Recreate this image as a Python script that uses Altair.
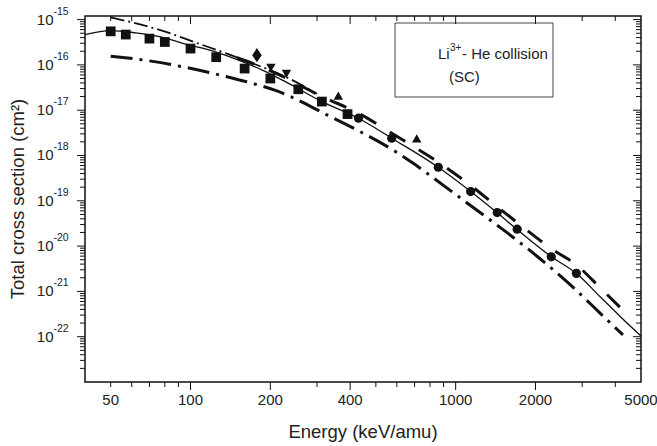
import altair as alt
import pandas as pd

# ---------------- data ----------------
# theory curves: energy (keV/amu) and total single-capture cross section (cm^2)
solid_E = [40, 50, 62, 78, 95, 120, 150, 190, 226, 313, 430, 574, 860, 1140, 1430, 1700, 2300, 2850, 3500, 4200, 5000]
solid_s = [4.67e-16, 5.7e-16, 5.1e-16, 4.1e-16, 2.9e-16, 2.07e-16, 1.31e-16, 7.3e-17, 4.37e-17, 1.55e-17,
           6.65e-18, 2.41e-18, 5.5e-19, 1.6e-19, 5.5e-20, 2.36e-20, 5.8e-21, 2.5e-21, 7.7e-22, 2.7e-22, 1.04e-22]

upper_E = [50, 78, 108, 138, 180, 226, 300]
upper_s = [1.12e-15, 5.7e-16, 2.91e-16, 1.75e-16, 9.7e-17, 5.6e-17, 2.3e-17]

dashed_E = [150, 190, 226, 313, 430, 574, 860, 1140, 1430, 1700, 2300, 2850, 3500, 4300]
dashed_s = [1.44e-16, 8.5e-17, 5.35e-17, 2.0e-17, 8.6e-18, 3.1e-18, 7.1e-19, 2.17e-19, 7.5e-20, 3.37e-20,
            8.7e-21, 3.85e-21, 1.22e-21, 3.7e-22]

lower_E = [50, 71, 95, 127, 169, 213, 327, 436, 600, 703, 811, 1098, 1500, 2032, 2728, 3668, 4274]
lower_s = [1.56e-16, 1.21e-16, 8.9e-17, 6.1e-17, 4.0e-17, 2.63e-17, 7.9e-18, 3.37e-18, 1.17e-18, 6.3e-19,
           3.42e-19, 9.2e-20, 2.37e-20, 5.9e-21, 1.34e-21, 2.56e-22, 1.1e-22]

# experimental points
square_E = [50, 57, 70, 80, 100, 125, 160, 200, 255, 313, 391]
square_s = [5.5e-16, 4.67e-16, 3.8e-16, 3.2e-16, 2.29e-16, 1.48e-16, 8.3e-17, 5.0e-17, 2.9e-17, 1.55e-17, 8.2e-18]
circle_E = [430, 574, 860, 1139, 1434, 1706, 2294, 2853]
circle_s = [6.65e-18, 2.41e-18, 5.5e-19, 1.6e-19, 5.5e-20, 2.36e-20, 5.8e-21, 2.5e-21]
diamond_E = [178]
diamond_s = [1.64e-16]
tdown_E = [201, 230]
tdown_s = [8.6e-17, 6.3e-17]
tup_E = [361, 713]
tup_s = [2.1e-17, 2.4e-18]

# axis ticks and labels
x_label_vals = [50, 100, 200, 400, 1000, 2000, 5000]
x_major_ticks = [100, 200, 400, 1000, 2000]
x_minor_ticks = [50, 60, 70, 80, 90, 300, 500, 600, 700, 800, 900, 3000, 4000]
y_major = [1e-15, 1e-16, 1e-17, 1e-18, 1e-19, 1e-20, 1e-21, 1e-22]
y_exp = ["-15", "-16", "-17", "-18", "-19", "-20", "-21", "-22"]
y_minor = [m * 10.0 ** e for e in range(-23, -15) for m in range(2, 10)]

# ---------------- chart ----------------
W, H = 556, 366
INK = "#111111"
FONT = "Liberation Sans"

xs = alt.Scale(type="log", domain=[40, 5000], nice=False)
ys = alt.Scale(type="log", domain=[1e-23, 1.2e-15], nice=False)
X = alt.X("E:Q", scale=xs, axis=None)
Y = alt.Y("s:Q", scale=ys, axis=None)


def df(E, s):
    return pd.DataFrame({"E": E, "s": s})


one = pd.DataFrame({"a": [0]})

box = alt.Chart(one).mark_rect(fill="white", stroke="#444444", strokeWidth=1).encode(
    x=alt.value(310), x2=alt.value(468), y=alt.value(7), y2=alt.value(81))


def line(E, s, width, dash=None):
    kw = dict(color=INK, strokeWidth=width, interpolate="monotone")
    if dash:
        kw["strokeDash"] = dash
    return alt.Chart(df(E, s)).mark_line(**kw).encode(x=X, y=Y)


solid = line(solid_E, solid_s, 1.3)
upper = line(upper_E, upper_s, 1.8, [14, 4, 2, 4])
dashed = line(dashed_E, dashed_s, 3, [18, 16])
lower = line(lower_E, lower_s, 3, [22, 7, 3, 7])


def pts(E, s, shape, size):
    return alt.Chart(df(E, s)).mark_point(shape=shape, filled=True, size=size, color=INK,
                                          opacity=1).encode(x=X, y=Y)


squares = pts(square_E, square_s, "square", 95)
circles = pts(circle_E, circle_s, "circle", 85)
diamonds = pts(diamond_E, diamond_s, "M0,-1.5L1,0L0,1.5L-1,0Z", 90)
tdowns = pts(tdown_E, tdown_s, "triangle-down", 90)
tups = pts(tup_E, tup_s, "triangle-up", 90)


def xticks(vals, length, top):
    y0, y1 = (0, length) if top else (H, H + length)
    return alt.Chart(pd.DataFrame({"E": vals})).mark_rule(color=INK, strokeWidth=1).encode(
        x=X, y=alt.value(y0), y2=alt.value(y1))


def yticks(vals, length, right):
    x0, x1 = (W - length, W) if right else (-length, 0)
    return alt.Chart(pd.DataFrame({"s": vals})).mark_rule(color=INK, strokeWidth=1).encode(
        y=Y, x=alt.value(x0), x2=alt.value(x1))


ticks = [
    xticks(x_major_ticks, 8, False), xticks(x_minor_ticks, 5, False),
    xticks(x_major_ticks, 8, True), xticks(x_minor_ticks, 5, True),
    yticks(y_major, 8, False), yticks(y_minor, 5, False),
    yticks(y_major, 8, True), yticks(y_minor, 5, True),
]

xlab = alt.Chart(pd.DataFrame({"E": x_label_vals, "t": [str(v) for v in x_label_vals]})).mark_text(
    font=FONT, fontSize=15, color="#222222", align="center", baseline="middle").encode(
    x=X, y=alt.value(H + 18), text="t:N")

ydf = pd.DataFrame({"s": y_major, "b": ["10"] * len(y_major), "e": y_exp})
ylab_base = alt.Chart(ydf).mark_text(font=FONT, fontSize=15, color="#222222", align="right",
                                      baseline="middle").encode(y=Y, x=alt.value(-31.5), text="b:N")
ylab_exp = alt.Chart(ydf).mark_text(font=FONT, fontSize=10.5, color="#222222", align="left",
                                     baseline="middle", dy=-8).encode(y=Y, x=alt.value(-31.5), text="e:N")

xtitle = alt.Chart(one).mark_text(font=FONT, fontSize=18.5, color="#222222", align="center",
                                  baseline="middle").encode(x=alt.value(W / 2), y=alt.value(416),
                                                            text=alt.value("Energy (keV/amu)"))
ytitle = alt.Chart(one).mark_text(font=FONT, fontSize=18.5, color="#222222", align="center",
                                  baseline="middle", angle=270).encode(
    x=alt.value(-67), y=alt.value(183), text=alt.value("Total cross section (cm²)"))

t1 = alt.Chart(one).mark_text(font=FONT, fontSize=15, color="#222222", align="left",
                              baseline="alphabetic").encode(x=alt.value(353), y=alt.value(43),
                                                            text=alt.value("Li"))
t2 = alt.Chart(one).mark_text(font=FONT, fontSize=10, color="#222222", align="left",
                              baseline="alphabetic").encode(x=alt.value(365), y=alt.value(35),
                                                            text=alt.value("3+"))
t3 = alt.Chart(one).mark_text(font=FONT, fontSize=15, color="#222222", align="left",
                              baseline="alphabetic").encode(x=alt.value(377), y=alt.value(43),
                                                            text=alt.value("- He collision"))
t4 = alt.Chart(one).mark_text(font=FONT, fontSize=15, color="#222222", align="left",
                              baseline="alphabetic").encode(x=alt.value(364), y=alt.value(66),
                                                            text=alt.value("(SC)"))

chart = alt.layer(
    box, solid, upper, dashed, lower, squares, circles, diamonds, tdowns, tups,
    *ticks, xlab, ylab_base, ylab_exp, xtitle, ytitle, t1, t2, t3, t4
).properties(
    width=W, height=H,
    padding={"left": 85, "top": 16, "right": 16, "bottom": 64},
    autosize=alt.AutoSizeParams(type="none"),
    background="white",
).configure_view(stroke=INK, strokeWidth=1.5)

chart.save("out.html", embed_options={"renderer": "svg", "actions": False})
